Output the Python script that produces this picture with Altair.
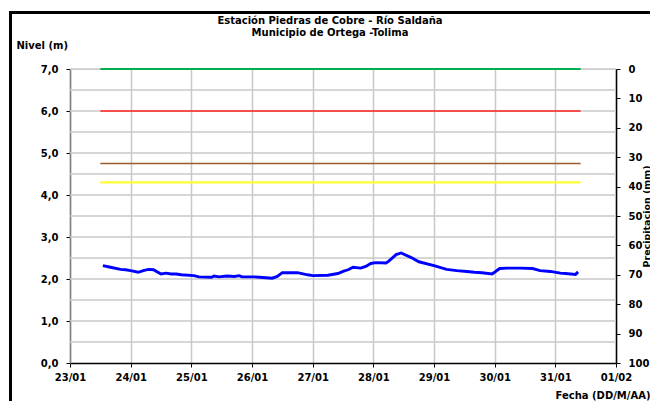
import altair as alt
import pandas as pd

# ---------------- data ----------------
fechas = [
    "2013-01-23 13:00", "2013-01-23 16:00", "2013-01-23 20:00", "2013-01-23 22:00",
    "2013-01-24 00:00", "2013-01-24 03:00", "2013-01-24 05:00", "2013-01-24 07:00",
    "2013-01-24 09:00", "2013-01-24 12:00", "2013-01-24 14:00", "2013-01-24 16:00",
    "2013-01-24 18:00", "2013-01-24 20:00", "2013-01-25 01:00", "2013-01-25 03:00",
    "2013-01-25 08:00", "2013-01-25 09:00", "2013-01-25 11:00", "2013-01-25 14:00",
    "2013-01-25 17:00", "2013-01-25 19:00", "2013-01-25 20:00", "2013-01-26 01:00",
    "2013-01-26 03:00", "2013-01-26 08:00", "2013-01-26 10:00", "2013-01-26 12:00",
    "2013-01-26 15:00", "2013-01-26 18:00", "2013-01-26 22:00", "2013-01-27 00:00",
    "2013-01-27 06:00", "2013-01-27 10:00", "2013-01-27 12:00", "2013-01-27 14:00",
    "2013-01-27 16:00", "2013-01-27 19:00", "2013-01-27 21:00", "2013-01-27 23:00",
    "2013-01-28 01:00", "2013-01-28 05:00", "2013-01-28 06:00", "2013-01-28 09:00",
    "2013-01-28 11:00", "2013-01-28 15:00", "2013-01-28 18:00", "2013-01-29 00:00",
    "2013-01-29 05:00", "2013-01-29 09:00", "2013-01-29 13:00", "2013-01-29 16:00",
    "2013-01-29 19:00", "2013-01-29 23:00", "2013-01-30 02:00", "2013-01-30 05:00",
    "2013-01-30 10:00", "2013-01-30 15:00", "2013-01-30 18:00", "2013-01-30 22:00",
    "2013-01-31 02:00", "2013-01-31 04:00", "2013-01-31 08:00", "2013-01-31 09:00",
]
nivel = [
    2.32, 2.28, 2.23, 2.22,
    2.20, 2.16, 2.20, 2.23,
    2.22, 2.12, 2.14, 2.12,
    2.12, 2.10, 2.08, 2.05,
    2.04, 2.07, 2.05, 2.07,
    2.06, 2.08, 2.05, 2.05,
    2.04, 2.02, 2.06, 2.15,
    2.15, 2.15, 2.10, 2.08,
    2.09, 2.13, 2.18, 2.22,
    2.28, 2.26, 2.30, 2.37,
    2.39, 2.38, 2.42, 2.58,
    2.62, 2.51, 2.41, 2.32,
    2.23, 2.20, 2.18, 2.16,
    2.15, 2.12, 2.25, 2.26,
    2.26, 2.25, 2.20, 2.18,
    2.14, 2.13, 2.11, 2.17,
]

umbral_valores = [7.0, 6.0, 4.75, 4.3]
umbral_colores = ["#00B050", "#FF2020", "#9C5B2E", "#FFFF33"]
umbral_grosor = [2.2, 1.6, 1.6, 2.2]
umbral_inicio = "2013-01-23 12:00"
umbral_fin = "2013-01-31 10:00"

grid_niveles = [0.5, 1.0, 1.5, 2.0, 2.5, 3.0, 3.5, 4.0, 4.5, 5.0, 5.5, 6.0, 6.5, 7.0]
nivel_ticks = [0, 1, 2, 3, 4, 5, 6, 7]
precip_ticks = [0, 10, 20, 30, 40, 50, 60, 70, 80, 90, 100]
dias = [(1, d) for d in range(23, 32)] + [(2, 1)]

titulo_1 = "Estación Piedras de Cobre  - Río Saldaña"
titulo_2 = "Municipio de Ortega -Tolima"

FONT = "DejaVu Sans"
W, H = 546, 294

df = pd.DataFrame({"fecha": fechas, "nivel": nivel})
df_umb = pd.DataFrame({
    "valor": umbral_valores,
    "color": umbral_colores,
    "grosor": umbral_grosor,
    "inicio": [umbral_inicio] * len(umbral_valores),
    "fin": [umbral_fin] * len(umbral_valores),
})
df_grid = pd.DataFrame({"g": grid_niveles})
df_precip = pd.DataFrame({"p": [0, 100]})
df_dummy = pd.DataFrame({"a": [0]})

x_scale = alt.Scale(
    domain=[alt.DateTime(year=2013, month=1, date=23), alt.DateTime(year=2013, month=2, date=1)],
    nice=False,
)
y_scale = alt.Scale(domain=[0, 7], nice=False, zero=True)

x_axis = alt.Axis(
    values=[alt.DateTime(year=2013, month=m, date=d) for m, d in dias],
    format="%d/%m",
    grid=True, gridColor="#C8C8C8", gridWidth=1.5,
    domainColor="black", domainWidth=1.5,
    tickColor="black", tickSize=4, tickWidth=1,
    labelFont=FONT, labelFontSize=10, labelFontWeight="bold", labelColor="black",
    labelPadding=5, labelFlush=False,
    title="Fecha (DD/M/AA)", titleFont=FONT, titleFontSize=10, titleFontWeight="bold",
    titleColor="black", titleAlign="right", titleBaseline="alphabetic",
    titleX=580, titleY=35,
)

y_axis = alt.Axis(
    values=nivel_ticks,
    labelExpr="replace(format(datum.value, '.1f'), '.', ',')",
    grid=False,
    domainColor="#808080", domainWidth=1.5,
    tickColor="black", tickSize=4,
    labelFont=FONT, labelFontSize=10, labelFontWeight="bold", labelColor="black",
    labelPadding=8,
    title="Nivel (m)", titleFont=FONT, titleFontSize=10, titleFontWeight="bold",
    titleColor="black", titleAngle=0, titleAlign="left", titleBaseline="alphabetic",
    titleX=-54, titleY=-21,
)

grid = alt.Chart(df_grid).mark_rule(color="#C8C8C8", strokeWidth=1.5).encode(
    y=alt.Y("g:Q", scale=y_scale, axis=y_axis)
)

umbrales = alt.Chart(df_umb).mark_rule().encode(
    x=alt.X("inicio:T", scale=x_scale, axis=x_axis),
    x2="fin:T",
    y=alt.Y("valor:Q", scale=y_scale, axis=y_axis),
    color=alt.Color("color:N", scale=None),
    strokeWidth=alt.StrokeWidth("grosor:Q", scale=None),
)

linea = alt.Chart(df).mark_line(color="#0000FF", strokeWidth=2.9).encode(
    x=alt.X("fecha:T", scale=x_scale, axis=x_axis),
    y=alt.Y("nivel:Q", scale=y_scale, axis=y_axis),
)

marco_sup = alt.Chart(df_dummy).mark_rule(color="black", strokeWidth=3).encode(
    x=alt.value(-61), x2=alt.value(600), y=alt.value(-56.5)
)
marco_izq = alt.Chart(df_dummy).mark_rule(color="black", strokeWidth=3).encode(
    x=alt.value(-59.5), y=alt.value(-58), y2=alt.value(345)
)

texto_kw = dict(font=FONT, fontSize=10, fontWeight="bold", color="black",
                align="center", baseline="middle")
tit1 = alt.Chart(pd.DataFrame({"t": [titulo_1]})).mark_text(**texto_kw).encode(
    text="t:N", x=alt.value(260), y=alt.value(-48)
)
tit2 = alt.Chart(pd.DataFrame({"t": [titulo_2]})).mark_text(**texto_kw).encode(
    text="t:N", x=alt.value(260), y=alt.value(-36)
)

nivel_layer = alt.layer(grid, umbrales, linea, marco_sup, marco_izq, tit1, tit2)

precip = alt.Chart(df_precip).mark_point(opacity=0).encode(
    y=alt.Y(
        "p:Q",
        scale=alt.Scale(domain=[0, 100], reverse=True, nice=False),
        axis=alt.Axis(
            orient="right", values=precip_ticks, grid=False,
            domainColor="black", domainWidth=1.5,
            tickColor="black", tickSize=4,
            labelFont=FONT, labelFontSize=10, labelFontWeight="bold", labelColor="black",
            labelPadding=8, labelAlign="left",
            title="Precipitacion (mm)", titleFont=FONT, titleFontSize=9.5,
            titleFontWeight="bold", titleColor="black",
            titleAngle=270, titleAlign="center", titleBaseline="middle",
            titleX=30, titleY=H / 2,
        ),
    )
)

chart = alt.layer(nivel_layer, precip).resolve_scale(y="independent").properties(
    width=W,
    height=H,
    padding={"left": 62, "top": 61, "right": 34, "bottom": 38},
    autosize=alt.AutoSizeParams(type="none"),
).configure_view(stroke=None).configure(background="white")

chart.save("out.html", embed_options={"renderer": "svg", "actions": False})
